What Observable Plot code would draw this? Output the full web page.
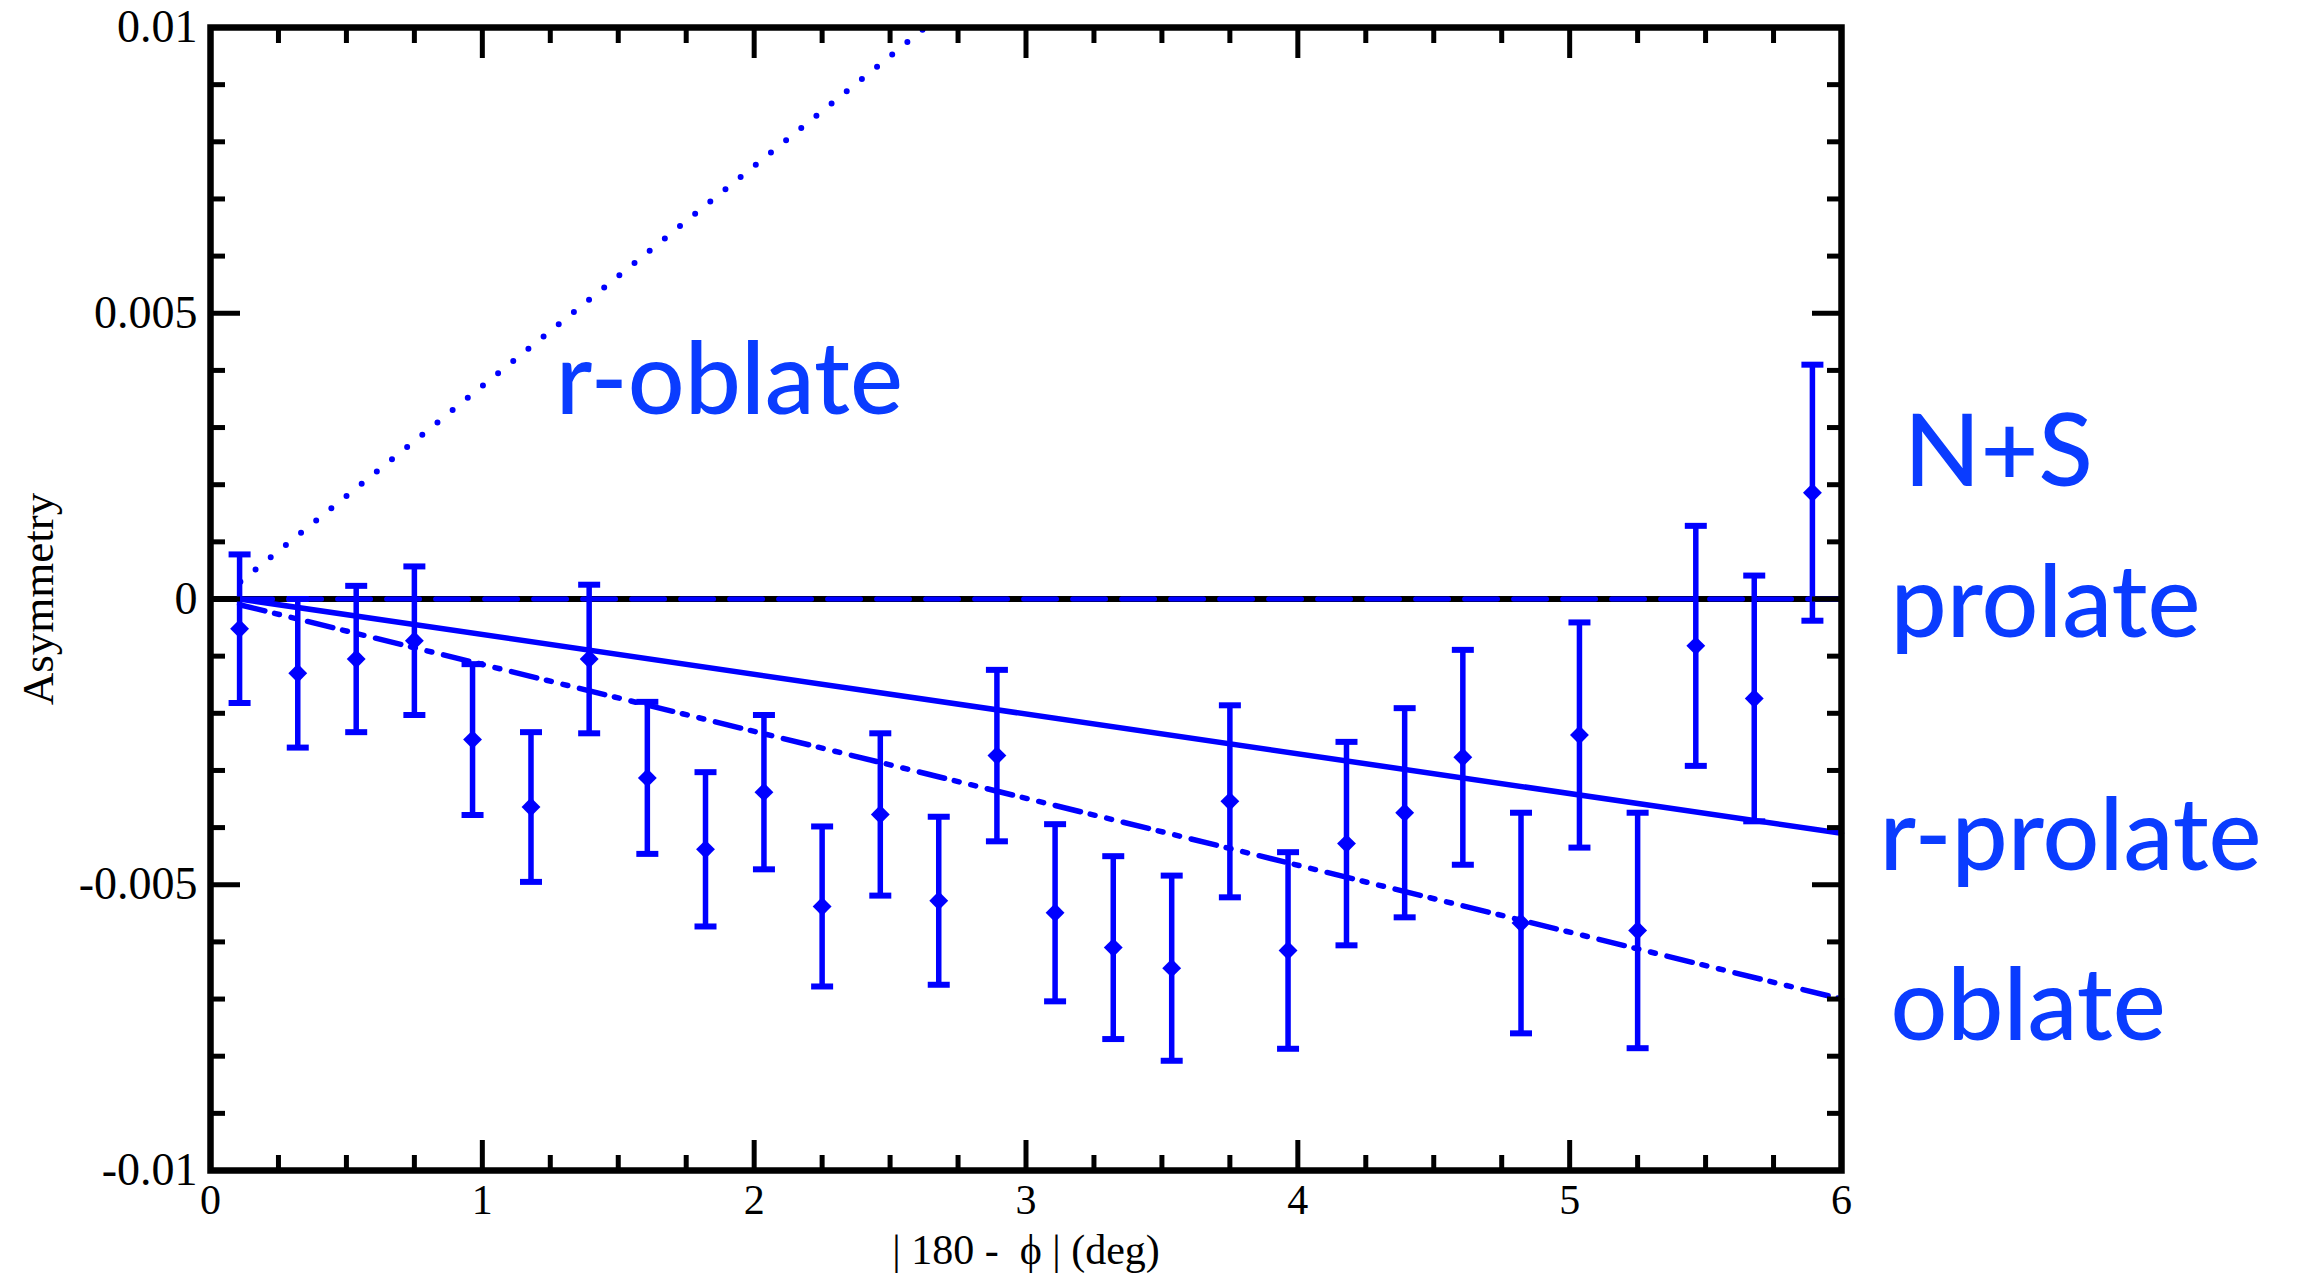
<!DOCTYPE html>
<html>
<head>
<meta charset="utf-8">
<script src="https://cdn.jsdelivr.net/npm/d3@7"></script>
<script src="https://cdn.jsdelivr.net/npm/@observablehq/plot@0.6"></script>
<style>
  html, body { margin: 0; padding: 0; background: #ffffff; }
  #chart svg { display: block; }
</style>
</head>
<body>
<div id="chart"></div>
<script>
// ---- data ----
const binX = [0.107, 0.321, 0.536, 0.750, 0.964, 1.179, 1.393, 1.607, 1.821, 2.036,
              2.250, 2.464, 2.679, 2.893, 3.107, 3.321, 3.536, 3.750, 3.964, 4.179,
              4.393, 4.607, 4.821, 5.036, 5.250, 5.464, 5.679, 5.893];
const asym = [-0.00052, -0.00130, -0.00105, -0.00073, -0.00246, -0.00364, -0.00105, -0.00313, -0.00438, -0.00338,
              -0.00538, -0.00377, -0.00528, -0.00274, -0.00549, -0.00610, -0.00646, -0.00354, -0.00615, -0.00428,
              -0.00374, -0.00277, -0.00567, -0.00238, -0.00580, -0.00082, -0.00174, 0.00186];
const asymErr = [0.00130, 0.00130, 0.00128, 0.00130, 0.00132, 0.00131, 0.00130, 0.00133, 0.00135, 0.00135,
                 0.00140, 0.00142, 0.00147, 0.00150, 0.00155, 0.00160, 0.00162, 0.00168, 0.00172, 0.00178,
                 0.00183, 0.00188, 0.00193, 0.00197, 0.00206, 0.00210, 0.00215, 0.00224];

// model curves (endpoints)
const prolateX = [0.107, 6.0];
const prolateY = [0.0, 0.0];
const rProlateX = [0.107, 6.0];
const rProlateY = [0.0, -0.0041];
const oblateX = [0.107, 6.0];
const oblateY = [-0.0001, -0.0070];
const rOblateX = [0.11, 2.63];
const rOblateY = [0.0003, 0.0100];

// annotation labels
const labelText = ["r-oblate", "N+S", "prolate", "r-prolate", "oblate"];
const labelX = [1.27, 6.23, 6.18, 6.14, 6.18];
const labelY = [0.00380, 0.00254, -0.00010, -0.00418, -0.00715];

// ticks
const xMajor = [0, 1, 2, 3, 4, 5, 6];
const xMinor = [0.25, 0.5, 0.75, 1.25, 1.5, 1.75, 2.25, 2.5, 2.75, 3.25, 3.5, 3.75,
                4.25, 4.5, 4.75, 5.25, 5.5, 5.75];
const yMajor = [-0.01, -0.005, 0, 0.005, 0.01];
const yMinor = [-0.009, -0.008, -0.007, -0.006, -0.004, -0.003, -0.002, -0.001,
                0.001, 0.002, 0.003, 0.004, 0.006, 0.007, 0.008, 0.009];
const yTickText = {"-0.01": "-0.01", "-0.005": "-0.005", "0": "0", "0.005": "0.005", "0.01": "0.01"};

const xAxisTitle = "| 180 -\u00a0 \u03d5 | (deg)";
const yAxisTitle = "Asymmetry";

// ---- build tables ----
const points = binX.map((x, i) => ({x, y: asym[i], lo: asym[i] - asymErr[i], hi: asym[i] + asymErr[i]}));
const toLine = (xs, ys) => xs.map((x, i) => ({x, y: ys[i]}));
const labels = labelText.map((t, i) => ({t, x: labelX[i], y: labelY[i]}));

const BLUE = "#0000ff";
const TEXTBLUE = "#0a3cff";

const capSymbol = {
  draw(context, size) {
    const w = Math.sqrt(size / Math.PI);
    context.moveTo(-w, 0);
    context.lineTo(w, 0);
  }
};

const chart = Plot.plot({
  width: 2302,
  height: 1277,
  marginLeft: 210,
  marginRight: 461,
  marginTop: 27,
  marginBottom: 107,
  x: {domain: [0, 6], label: null},
  y: {domain: [-0.01, 0.01], label: null},
  style: {fontFamily: "'Liberation Serif', 'Times New Roman', serif", fontSize: "42px", background: "#ffffff", color: "#000000", overflow: "visible"},
  marks: [
    Plot.ruleY([0], {stroke: "#000000", strokeWidth: 6}),
    Plot.line(toLine(prolateX, prolateY), {x: "x", y: "y", stroke: BLUE, strokeWidth: 5, strokeDasharray: "33,16"}),
    Plot.line(toLine(rProlateX, rProlateY), {x: "x", y: "y", stroke: BLUE, strokeWidth: 5.5}),
    Plot.line(toLine(oblateX, oblateY), {x: "x", y: "y", stroke: BLUE, strokeWidth: 5.5, strokeDasharray: "26,10,5,12,5,12"}),
    Plot.line(toLine(rOblateX, rOblateY), {x: "x", y: "y", stroke: BLUE, strokeWidth: 6, strokeDasharray: "0,19.5", strokeLinecap: "round", clip: true}),
    Plot.ruleX(points, {x: "x", y1: "lo", y2: "hi", stroke: BLUE, strokeWidth: 5.5}),
    Plot.dot(points, {x: "x", y: "lo", symbol: capSymbol, r: 11, stroke: BLUE, strokeWidth: 6, fill: "none"}),
    Plot.dot(points, {x: "x", y: "hi", symbol: capSymbol, r: 11, stroke: BLUE, strokeWidth: 6, fill: "none"}),
    Plot.dot(points, {x: "x", y: "y", symbol: "diamond2", r: 8.5, fill: BLUE, stroke: "none"}),
    // ticks (inward, on all four sides)
    Plot.axisX({anchor: "bottom", ticks: xMajor, tickSize: -30, tickFormat: () => "", strokeWidth: 5, label: null}),
    Plot.axisX({anchor: "bottom", ticks: xMinor, tickSize: -15, tickFormat: () => "", strokeWidth: 5, label: null}),
    Plot.axisX({anchor: "top", ticks: xMajor, tickSize: -30, tickFormat: () => "", strokeWidth: 5, label: null}),
    Plot.axisX({anchor: "top", ticks: xMinor, tickSize: -15, tickFormat: () => "", strokeWidth: 5, label: null}),
    Plot.axisY({anchor: "left", ticks: yMajor, tickSize: -30, tickFormat: () => "", strokeWidth: 5, label: null}),
    Plot.axisY({anchor: "left", ticks: yMinor, tickSize: -15, tickFormat: () => "", strokeWidth: 5, label: null}),
    Plot.axisY({anchor: "right", ticks: yMajor, tickSize: -30, tickFormat: () => "", strokeWidth: 5, label: null}),
    Plot.axisY({anchor: "right", ticks: yMinor, tickSize: -15, tickFormat: () => "", strokeWidth: 5, label: null}),
    // tick labels
    Plot.axisX({anchor: "bottom", ticks: xMajor, tickSize: 0, tickPadding: 14, tickFormat: d => String(d), fontSize: 42, label: null}),
    Plot.axisY({anchor: "left", ticks: yMajor, tickSize: 0, tickPadding: 13, tickFormat: d => yTickText[String(d)], fontSize: 46, label: null}),
    Plot.frame({stroke: "#000000", strokeWidth: 6.5}),
    // axis titles
    Plot.text([yAxisTitle], {frameAnchor: "left", dx: -172, rotate: -90, textAnchor: "middle", fontSize: 45, fill: "#000000"}),
    Plot.text([xAxisTitle], {frameAnchor: "bottom", dy: 93, fontSize: 42, fill: "#000000"}),
    // annotations
    Plot.text(labels, {x: "x", y: "y", text: "t", textAnchor: "start", fill: TEXTBLUE, fontSize: 100, fontWeight: 500, fontFamily: "Lato, 'Open Sans', sans-serif", clip: false})
  ]
});
document.getElementById("chart").appendChild(chart);
</script>
</body>
</html>
